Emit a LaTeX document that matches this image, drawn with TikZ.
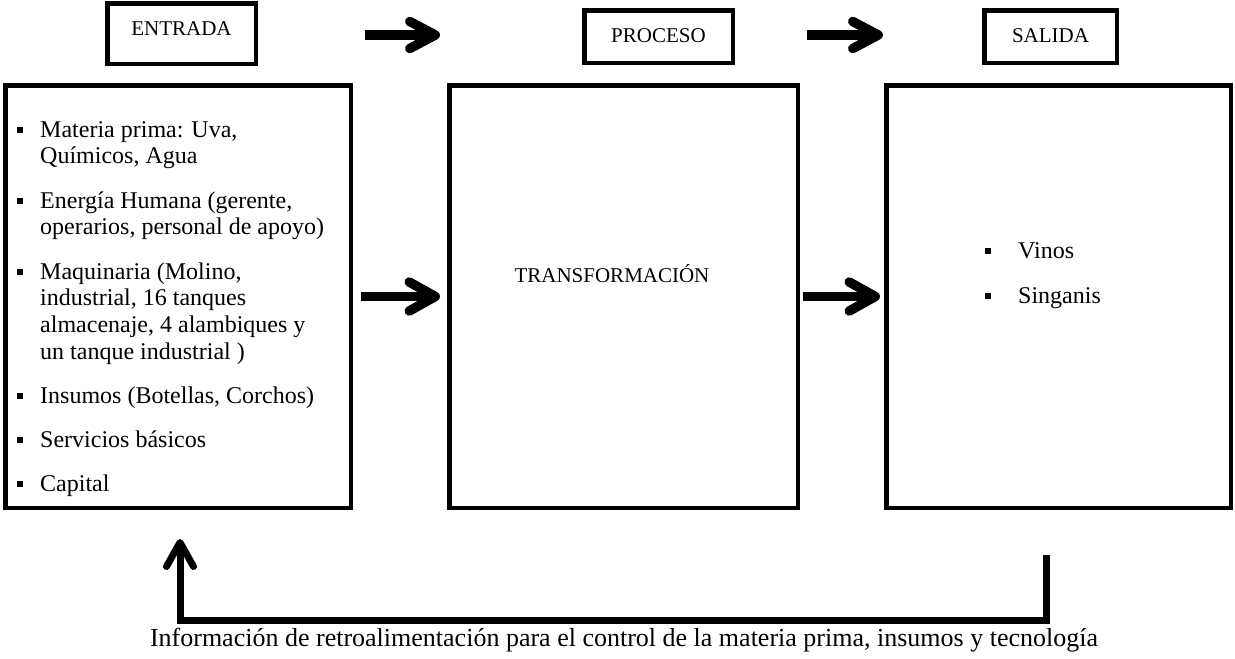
\documentclass[tikz,border=0pt]{standalone}
\usepackage{fontspec}
\setmainfont{Liberation Serif}
\begin{document}
\begin{tikzpicture}[x=1pt,y=-1pt,
  frame/.style={draw, line width=4.5pt, inner sep=0pt, outer sep=0pt},
  shaft/.style={line width=9.5pt},
  barb/.style={line width=9.5pt, line cap=round, line join=round},
  fbline/.style={line width=7pt, line join=miter},
  fbbarb/.style={line width=7pt, line cap=round, line join=round},
  body/.style={font=\fontsize{24}{26.7}\selectfont, inner sep=0pt},
  headtxt/.style={font=\fontsize{21}{24}\selectfont, inner sep=0pt},
  sq/.style={fill, inner sep=0pt, minimum size=6.5pt}
]
\useasboundingbox (0,0) rectangle (1235,659);

% header boxes
\node[frame, minimum width=148.5pt, minimum height=60.5pt] (hEnt) at (181.5,33.5) {};
\node[frame, minimum width=148.5pt, minimum height=52.5pt] (hPro) at (658.5,36.5) {};
\node[frame, minimum width=132.5pt, minimum height=52.5pt] (hSal) at (1050.5,36.5) {};
\node[headtxt, anchor=base] (tEnt) at (181.5,35) {ENTRADA};
\node[headtxt, anchor=base] (tPro) at (658.5,42.5) {PROCESO};
\node[headtxt, anchor=base] (tSal) at (1050.5,42.5) {SALIDA};

% main boxes
\node[frame, minimum width=345.5pt, minimum height=422.5pt] (L) at (178,296.5) {};
\node[frame, minimum width=348.5pt, minimum height=422.5pt] (M) at (623.5,296.5) {};
\node[frame, minimum width=344.5pt, minimum height=422.5pt] (R) at (1058.5,296.5) {};

% input list
\node[sq] (b1) at (20,130) {};
\node[body, anchor=base west] (i1) at (40,137) {\parbox[t]{305pt}{Materia prima: Uva,\\Químicos, Agua}};
\node[sq] (b2) at (20,201) {};
\node[body, anchor=base west] (i2) at (40,208) {\parbox[t]{305pt}{Energía Humana (gerente,\\operarios, personal de apoyo)}};
\node[sq] (b3) at (20,272) {};
\node[body, anchor=base west] (i3) at (40,279) {\parbox[t]{305pt}{Maquinaria (Molino,\\industrial, 16 tanques\\almacenaje, 4 alambiques y\\un tanque industrial )}};
\node[sq] (b4) at (20,396) {};
\node[body, anchor=base west] (i4) at (40,403) {Insumos (Botellas, Corchos)};
\node[sq] (b5) at (20,440) {};
\node[body, anchor=base west] (i5) at (40,447) {Servicios básicos};
\node[sq] (b6) at (20,484) {};
\node[body, anchor=base west] (i6) at (40,491) {Capital};

% process
\node[headtxt, anchor=base] (tTr) at (612,282) {TRANSFORMACIÓN};

% output list
\node[sq] (o1) at (988,251) {};
\node[body, anchor=base west] (v1) at (1018,258) {Vinos};
\node[sq] (o2) at (988,296) {};
\node[body, anchor=base west] (v2) at (1018,303) {Singanis};

% arrows along the top row
\coordinate (a1s) at (365,35);
\coordinate (a1t) at (435.25,35);
\coordinate (a2s) at (807,35);
\coordinate (a2t) at (878.25,35);
\draw[shaft] (a1s) -- ([xshift=-3pt]a1t);
\draw[barb] ([shift={(-25.5,-13.5)}]a1t) -- (a1t) -- ([shift={(-25.5,13.5)}]a1t);
\draw[shaft] (a2s) -- ([xshift=-3pt]a2t);
\draw[barb] ([shift={(-25.5,-13.5)}]a2t) -- (a2t) -- ([shift={(-25.5,13.5)}]a2t);

% arrows between the main boxes
\coordinate (a3s) at ([xshift=10pt]L.east);
\coordinate (a3t) at ([xshift=-14pt]M.west);
\coordinate (a4s) at ([xshift=5pt]M.east);
\coordinate (a4t) at ([xshift=-11pt]R.west);
\draw[shaft] (a3s) -- ([xshift=-3pt]a3t);
\draw[barb] ([shift={(-26,-14.5)}]a3t) -- (a3t) -- ([shift={(-26,14.5)}]a3t);
\draw[shaft] (a4s) -- ([xshift=-3pt]a4t);
\draw[barb] ([shift={(-26,-14.5)}]a4t) -- (a4t) -- ([shift={(-26,14.5)}]a4t);

% feedback loop
\coordinate (fTop) at (1046,555);
\coordinate (fBR) at (1046,620);
\coordinate (fBL) at (180,620);
\coordinate (fTip) at (180,542.5);
\draw[fbline] (fTop) -- (fBR) -- (fBL) -- ([yshift=-2pt]fTip);
\draw[fbbarb] ([shift={(-13.5,24)}]fTip) -- (fTip) -- ([shift={(13.5,24)}]fTip);
\node[font=\fontsize{26}{30}\selectfont, inner sep=0pt, anchor=base] (fbTxt) at (624,646)
  {Información de retroalimentación para el control de la materia prima, insumos y tecnología};
\end{tikzpicture}
\end{document}
